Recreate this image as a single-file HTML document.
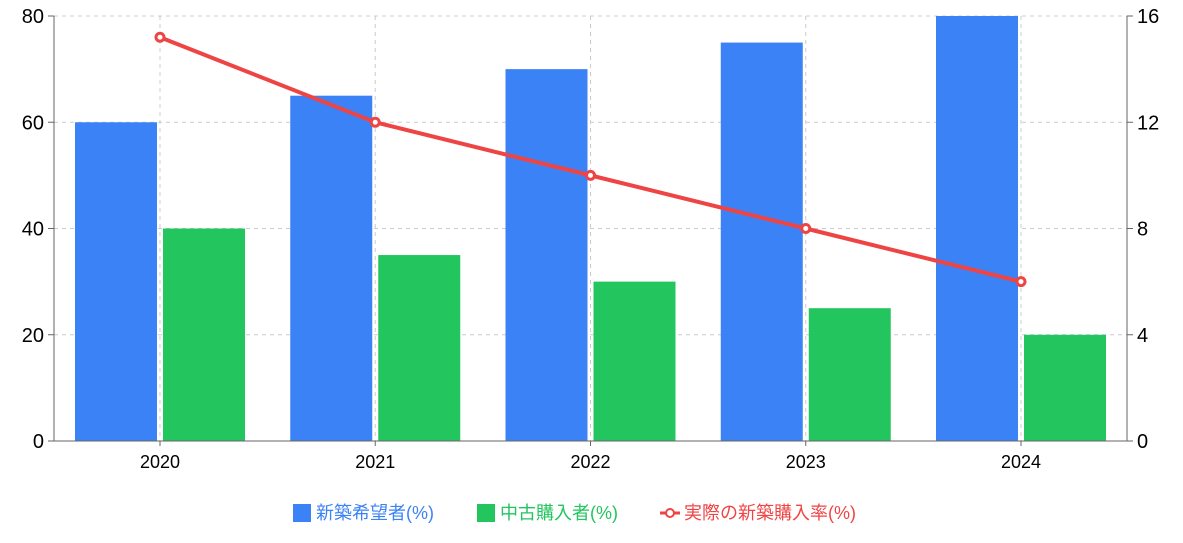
<!DOCTYPE html>
<html><head><meta charset="utf-8"><style>
body{margin:0;background:#fff;}
svg text{font-family:"Liberation Sans","Noto Sans CJK JP",sans-serif;}
</style></head><body>
<svg id="c" width="1183" height="538" xmlns="http://www.w3.org/2000/svg"></svg>
<script>
const categories=["2020","2021","2022","2023","2024"];
const newBuildWish=[60,65,70,75,80];
const usedBuyers=[40,35,30,25,20];
const actualRate=[15.2,12,10,8,6];
const leftTicks=[0,20,40,60,80];
const rightTicks=[0,4,8,12,16];
const NS="http://www.w3.org/2000/svg";
const svg=document.getElementById('c');
const L=54,R=1127,T=16,B=441;
const yL=v=>B-(v/80)*(B-T);
const yR=v=>B-(v/16)*(B-T);
const xC=i=>160+i*215.25;
function el(tag,attrs,parent){const e=document.createElementNS(NS,tag);for(const k in attrs)e.setAttribute(k,attrs[k]);(parent||svg).appendChild(e);return e;}
// grid
leftTicks.forEach(t=>{if(t>0){const g=el('line',{x1:L,x2:R,y1:yL(t),y2:yL(t),stroke:'#ccc','stroke-dasharray':'4,4'});

}});
categories.forEach((c,i)=>{const g=el('line',{x1:xC(i),x2:xC(i),y1:T,y2:B,stroke:'#ccc','stroke-dasharray':'4,4'});

});
// bars
categories.forEach((c,i)=>{
const b=el('rect',{x:xC(i)-85,y:yL(newBuildWish[i]),width:82,height:B-yL(newBuildWish[i]),fill:'#3b82f6'});


const g=el('rect',{x:xC(i)+3,y:yL(usedBuyers[i]),width:82,height:B-yL(usedBuyers[i]),fill:'#22c55e'});


const t=el('text',{x:xC(i),y:468,'text-anchor':'middle','font-size':18,fill:'#000'});t.textContent=c;


const tk=el('line',{x1:xC(i),x2:xC(i),y1:B,y2:B+5,stroke:'#666'});


});
// axes
const ax=el('line',{x1:L,x2:L,y1:T,y2:B,stroke:'#666'});
const ax2=el('line',{x1:R,x2:R,y1:T,y2:B,stroke:'#666'});
const ax3=el('line',{x1:L,x2:R,y1:B,y2:B,stroke:'#666'});
leftTicks.forEach(t=>{const k=el('line',{x1:L-6,x2:L,y1:yL(t),y2:yL(t),stroke:'#666'});


const tx=el('text',{x:L-10,y:yL(t)+7,'text-anchor':'end','font-size':20,fill:'#000'});tx.textContent=t;

});
rightTicks.forEach(t=>{const k=el('line',{x1:R,x2:R+6,y1:yR(t),y2:yR(t),stroke:'#666'});


const tx=el('text',{x:R+10,y:yR(t)+7,'text-anchor':'start','font-size':20,fill:'#000'});tx.textContent=t;

});
// line
const pts=actualRate.map((v,i)=>xC(i)+','+yR(v)).join(' ');
const pl=el('polyline',{points:pts,fill:'none',stroke:'#ef4444','stroke-width':4});


actualRate.forEach((v,i)=>{const p=el('circle',{cx:xC(i),cy:yR(v),r:4,fill:'#fff',stroke:'#ef4444','stroke-width':3});

});
</script>
<svg width="1183" height="538" style="position:absolute;left:0;top:0">
<rect x="293" y="504" width="18" height="18" fill="#3b82f6"/>
<text x="316" y="519" font-size="18" fill="#3b82f6">新築希望者(%)</text>
<rect x="477" y="504" width="18" height="18" fill="#22c55e"/>
<text x="500" y="519" font-size="18" fill="#22c55e">中古購入者(%)</text>
<line x1="660" y1="513" x2="680" y2="513" stroke="#ef4444" stroke-width="3"/>
<circle cx="670" cy="513" r="4" fill="#fff" stroke="#ef4444" stroke-width="2"/>
<text x="684" y="519" font-size="18" fill="#ef4444">実際の新築購入率(%)</text>
</svg>
</body></html>
